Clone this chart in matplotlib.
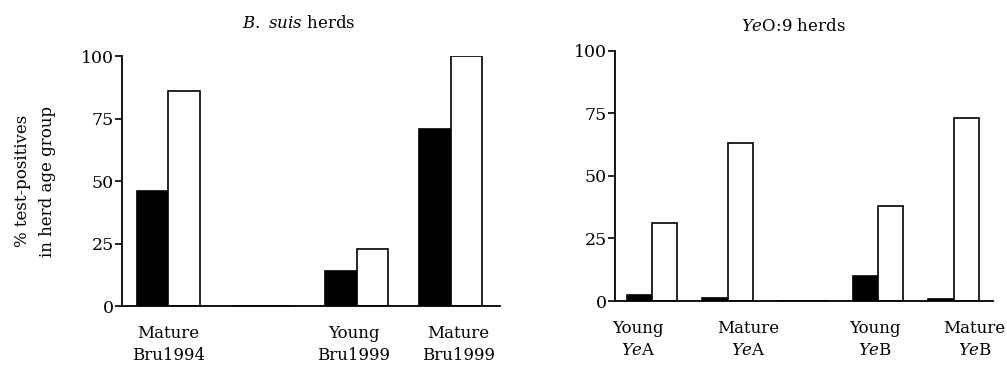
import matplotlib
matplotlib.use("Agg")
import matplotlib.pyplot as plt
import numpy as np

plt.rcParams['font.family'] = ['DejaVu Serif']
plt.rcParams['mathtext.fontset'] = 'dejavuserif'
plt.rcParams['font.size'] = 12

# B. suis herds
bsuis_labels = ['Mature\nBru1994', '', 'Young\nBru1999', 'Mature\nBru1999']
bsuis_black = [46, 0, 14, 71]
bsuis_white = [86, 0, 23, 100]

# YeO:9 herds
ye_labels = ['Young\n$Ye$A', 'Mature\n$Ye$A', '', 'Young\n$Ye$B', 'Mature\n$Ye$B']
ye_black = [2.4, 1.2, 0, 10, 1]
ye_white = [31, 63, 0, 38, 73]

yticks = [0, 25, 50, 75, 100]


def draw_panel(ax, labels, black, white, title, title_x, title_pad, label_shift):
    x = np.arange(len(labels)) * 3
    ax.bar(x, black, width=1, align='edge', color='black', edgecolor='black', linewidth=1.2)
    ax.bar(x + 1, white, width=1, align='edge', color='white', edgecolor='black', linewidth=1.2)

    ax.set_ylim(0, 100)
    ax.set_xlim(-0.48, x[-1] + 2.57)
    ax.set_yticks(yticks)

    pos = [xi + 1 + s for xi, s, l in zip(x, label_shift, labels) if l]
    ax.set_xticks(pos)
    ax.set_xticklabels([l for l in labels if l], linespacing=1.35)
    ax.tick_params(axis='x', length=0, pad=14)
    ax.tick_params(axis='y', length=5, width=1.2, pad=1, direction='out', labelsize=12.5)

    for s in ['top', 'right']:
        ax.spines[s].set_visible(False)
    for s in ['left', 'bottom']:
        ax.spines[s].set_linewidth(1.3)

    ax.set_title(title, x=title_x, pad=title_pad, fontsize=12)


fig = plt.figure(figsize=(10.07, 3.67), dpi=100)
ax1 = fig.add_axes([0.1211, 0.1662, 0.3754, 0.6812])
ax2 = fig.add_axes([0.6107, 0.1798, 0.3754, 0.6821])

draw_panel(ax1, bsuis_labels, bsuis_black, bsuis_white,
           '$B.$ $suis$ herds', 0.468, 20, [0, 0, -0.09, 0.25])
draw_panel(ax2, ye_labels, ye_black, ye_white,
           '$Ye$O:9 herds', 0.471, 14, [-0.56, 0.84, 0, -0.12, 0.84])

ax1.set_ylabel('% test-positives\nin herd age group', linespacing=1.6)
ax1.yaxis.set_label_coords(-0.175, 0.5)

fig.savefig('out.png', dpi=100)
